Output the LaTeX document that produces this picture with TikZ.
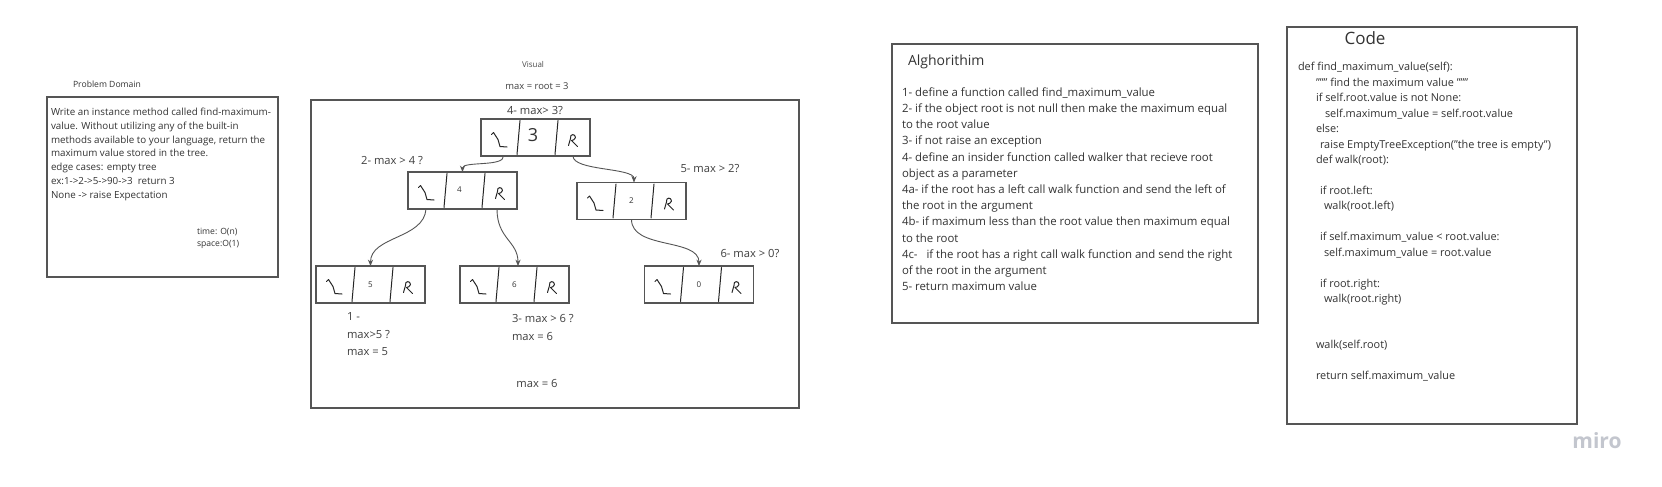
\documentclass[tikz,border=0pt]{standalone}
\usepackage{fontspec}
\setmainfont{Open Sans}
\usetikzlibrary{calc,arrows.meta}
\definecolor{boxline}{HTML}{555555}
\definecolor{txt}{HTML}{333333}
\definecolor{mirogray}{HTML}{C3C6CE}
\tikzset{
  every node/.style={inner sep=0pt, outer sep=0pt, text=txt},
  panel/.style={draw=boxline, line width=0.8pt},
  tbox/.style={draw=boxline, line width=0.75pt, minimum width=54.5pt, minimum height=18.5pt, font=\fontsize{4}{5}\selectfont},
  conn/.style={draw=boxline, line width=0.45pt, -{Stealth[length=3.2pt,width=2.6pt]}},
  glyph/.style={draw=black!85, line width=0.5pt, line cap=round, line join=round},
  lbl/.style={font=\fontsize{5.6}{8.75}\selectfont, text=black!75},
  small/.style={font=\fontsize{4.3}{5.85}\selectfont, text=black!75},
}
\newcommand{\treenode}[4]{%
  \node[tbox] (#1) at (#2,#3) {#4};
  \begin{scope}[shift={(#1.center)}]
    \draw[glyph] (-15.5,-17) -- (-18.5,17);
    \draw[glyph] (22.5,-17) -- (19.5,17);
    \draw[glyph] (-44,-3) -- (-42,-5) -- (-37.5,2) -- (-35.5,9) -- (-28.5,9.5);
    \draw[glyph] (33,8) -- (35,1) .. controls (34,-4) and (40,-4) .. (40,0) .. controls (40,2) and (37,3) .. (36,3) -- (42,9);
  \end{scope}}
\begin{document}
\begin{tikzpicture}[x=0.5pt,y=-0.5pt]
\useasboundingbox (0,0) rectangle (1662,487);
\fill[white] (0,0) rectangle (1662,487);

% Problem domain
\node[small, text=txt] (pdtitle) at (107,84) {Problem Domain};
\draw[panel] (47,97) rectangle (278,277);
\node[anchor=north west, align=left, font=\fontsize{4.9}{6.9}\selectfont] (pdtext) at (51,108) {Write an instance method called find-maximum-\\value. Without utilizing any of the built-in\\methods available to your language, return the\\maximum value stored in the tree.\\edge cases: empty tree\\ex:1->2->5->90->3\ \ return 3\\None -> raise Expectation};
\node[anchor=north west, align=left, small, text=txt] (cx) at (197,228) {time: O(n)\\space:O(1)};

% Visual
\node[font=\fontsize{4}{5}\selectfont, text=black!70] (vtitle) at (533,65) {Visual};
\node[font=\fontsize{4.7}{6}\selectfont, text=black!75] (vmax) at (537,86) {max = root = 3};
\draw[panel] (311,100) rectangle (799,408);

\treenode{root}{535.5}{137.5}{\fontsize{9}{10}\selectfont\raisebox{2.5pt}{3}\hspace*{2.5pt}}
\treenode{n4}{462.5}{190.5}{\raisebox{1pt}{4}\hspace*{3pt}}
\treenode{n2}{631.5}{201}{2}
\treenode{n5}{370.5}{284.5}{5}
\treenode{n6}{514.5}{284.5}{6}
\treenode{n0}{699}{284.5}{0}

\draw[conn] ($(root.south)+(-32,0)$) .. controls +(1,11) and +(0,-11) .. (n4.north);
\draw[conn] ($(root.south)+(37.5,0)$) .. controls +(0,15) and +(0,-15) .. ($(n2.north)+(2.5,0)$);
\draw[conn] ($(n4.south)+(-36.5,0)$) .. controls +(-2,30) and +(0,-30) .. (n5.north);
\draw[conn] ($(n4.south)+(34.5,0)$) .. controls +(0,30) and +(0,-25) .. ($(n6.north)+(3.5,0)$);
\draw[conn] (n2.south) .. controls +(0,30) and +(0,-28) .. (n0.north);

\node[lbl] (l4) at (535,111) {4- max> 3?};
\node[lbl] (l2) at (392,161) {2- max > 4 ?};
\node[lbl] (l5) at (710,169) {5- max > 2?};
\node[lbl] (l6) at (750,254) {6- max > 0?};
\node[lbl, anchor=north west, align=left] (l1) at (347,313) {1 -\\max>5 ?\\max = 5};
\node[lbl, anchor=north west, align=left, font=\fontsize{5.6}{9}\selectfont] (l3) at (512,314) {3- max > 6 ?\\max = 6};
\node[lbl] (lres) at (537,383) {max = 6};

% Algorithm
\draw[panel] (892,44) rectangle (1258,323);
\node[anchor=west, font=\fontsize{7}{8}\selectfont] (algtitle) at (908,62) {Alghorithim};
\node[anchor=north west, align=left, font=\fontsize{5.7}{8.1}\selectfont] (algtext) at (902,87.5) {1- define a function called find\_maximum\_value\\2- if the object root is not null then make the maximum equal\\to the root value\\3- if not raise an exception\\4- define an insider function called walker that recieve root\\object as a parameter\\4a- if the root has a left call walk function and send the left of\\the root in the argument\\4b- if maximum less than the root value then maximum equal\\to the root\\4c-\ \ \ if the root has a right call walk function and send the right\\of the root in the argument\\5- return maximum value};

% Code
\draw[panel] (1287,27) rectangle (1577,424);
\node[font=\fontsize{8.5}{10}\selectfont] (codetitle) at (1365,38) {Code};
\node[anchor=north west, align=left, font=\fontsize{5.45}{7.725}\selectfont] (code) at (1298,62.5) {def find\_maximum\_value(self):\\
\hspace*{9pt}""" find the maximum value """\\
\hspace*{9pt}if self.root.value is not None:\\
\hspace*{13.5pt}self.maximum\_value = self.root.value\\
\hspace*{9pt}else:\\
\hspace*{11pt}raise EmptyTreeException("the tree is empty")\\
\hspace*{9pt}def walk(root):\\
\mbox{}\\
\hspace*{11pt}if root.left:\\
\hspace*{13pt}walk(root.left)\\
\mbox{}\\
\hspace*{11pt}if self.maximum\_value < root.value:\\
\hspace*{13pt}self.maximum\_value = root.value\\
\mbox{}\\
\hspace*{11pt}if root.right:\\
\hspace*{13pt}walk(root.right)\\
\mbox{}\\
\mbox{}\\
\hspace*{9pt}walk(self.root)\\
\mbox{}\\
\hspace*{9pt}return self.maximum\_value};

% logo
\node[font=\fontsize{10.5}{12}\selectfont\bfseries, text=mirogray] (miro) at (1597,441) {miro};
\end{tikzpicture}
\end{document}
